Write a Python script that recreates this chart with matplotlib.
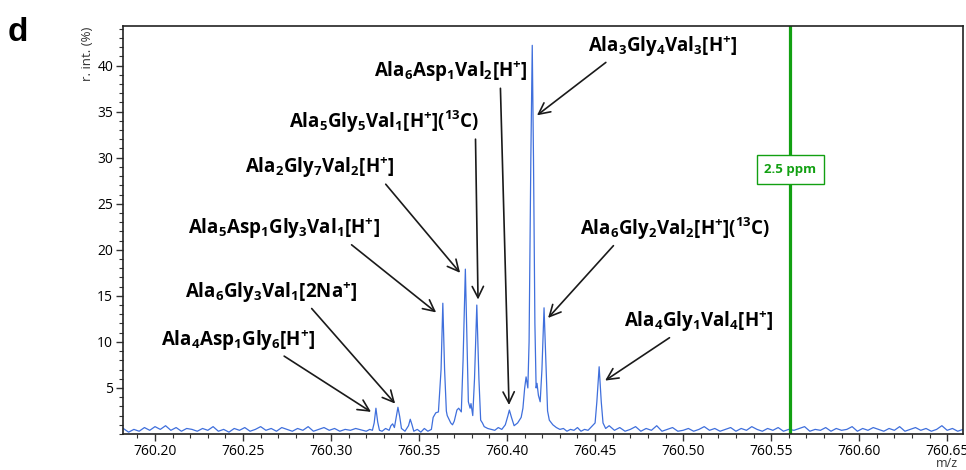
import numpy as np
import matplotlib
matplotlib.use("Agg")
import matplotlib.pyplot as plt
from matplotlib.ticker import MultipleLocator

plt.rcParams['font.family'] = ['Open Sans', 'DejaVu Sans']
plt.rcParams['mathtext.fontset'] = 'custom'
plt.rcParams['mathtext.rm'] = 'Open Sans:bold'
plt.rcParams['mathtext.it'] = 'Open Sans:bold'
plt.rcParams['mathtext.bf'] = 'Open Sans:bold'

# spectrum trace (m/z, relative intensity %)
mz_low = [760.182, 760.185, 760.188, 760.191, 760.194, 760.197, 760.200, 760.203,
          760.206, 760.209, 760.212, 760.215, 760.218, 760.221, 760.224, 760.227,
          760.230, 760.233, 760.236, 760.239, 760.242, 760.245, 760.248, 760.251,
          760.254, 760.257, 760.260, 760.263, 760.266, 760.269, 760.272, 760.275,
          760.278, 760.281, 760.284, 760.287, 760.290, 760.293, 760.296, 760.299,
          760.302, 760.305, 760.308, 760.311, 760.314]
int_low = [0.6, 0.2, 0.5, 0.3, 0.7, 0.4, 0.8, 0.5,
           0.9, 0.4, 0.7, 0.3, 0.6, 0.5, 0.3, 0.6,
           0.4, 0.8, 0.3, 0.5, 0.2, 0.6, 0.4, 0.7,
           0.3, 0.5, 0.8, 0.4, 0.6, 0.3, 0.7, 0.5,
           0.3, 0.6, 0.4, 0.8, 0.3, 0.5, 0.7, 0.4,
           0.6, 0.3, 0.5, 0.4, 0.6]

mz_peaks = [760.318, 760.320, 760.322, 760.3235, 760.3245, 760.3255, 760.3265, 760.3275,
            760.329, 760.331, 760.333, 760.334, 760.335, 760.336, 760.337, 760.338,
            760.339, 760.340, 760.342, 760.344, 760.345, 760.346, 760.347, 760.349,
            760.351, 760.353, 760.355, 760.357, 760.358, 760.3595, 760.361, 760.3625,
            760.3635, 760.3645, 760.3655, 760.366, 760.367, 760.368, 760.369, 760.370,
            760.3715, 760.3725, 760.374, 760.375, 760.3763, 760.3775, 760.378, 760.379,
            760.3795, 760.3805, 760.3815, 760.3828, 760.384, 760.385, 760.386, 760.387,
            760.389, 760.391, 760.393, 760.395, 760.397, 760.399, 760.4005, 760.4013,
            760.4025, 760.404, 760.406, 760.408, 760.409, 760.410, 760.4108, 760.4118,
            760.4125, 760.4135, 760.4143, 760.415, 760.4158, 760.4165, 760.4170, 760.4178,
            760.4188, 760.4198, 760.4210, 760.4222, 760.423, 760.424, 760.426, 760.428,
            760.430, 760.432, 760.434, 760.436, 760.438, 760.440, 760.442, 760.444,
            760.446, 760.448, 760.450, 760.451, 760.4523, 760.4535, 760.4545, 760.456,
            760.458]
int_peaks = [0.4, 0.3, 0.5, 0.4, 1.2, 2.8, 1.3, 0.4,
             0.3, 0.6, 0.4, 0.9, 1.1, 0.7, 1.8, 2.9,
             1.9, 0.6, 0.3, 0.9, 1.6, 1.0, 0.3, 0.5,
             0.2, 0.6, 0.3, 0.5, 1.8, 2.3, 2.4, 7.0,
             14.2, 7.0, 2.5, 2.0, 1.6, 1.2, 1.0, 1.4,
             2.6, 2.8, 2.4, 8.0, 17.9, 8.0, 3.5, 2.8,
             3.3, 2.0, 6.0, 14.0, 6.0, 1.5, 1.2, 0.8,
             0.6, 0.5, 0.4, 0.7, 0.5, 1.0, 2.0, 2.6,
             1.8, 0.9, 1.2, 1.8, 2.8, 5.0, 6.2, 5.0,
             10.0, 30.0, 42.2, 30.0, 12.0, 5.0, 5.5, 4.2,
             3.5, 7.0, 13.7, 7.0, 2.5, 1.5, 1.0, 0.7,
             0.5, 0.6, 0.3, 0.5, 0.4, 0.7, 0.3, 0.5,
             0.4, 0.8, 1.2, 3.5, 7.3, 3.5, 1.2, 0.6,
             0.9]

mz_high = [760.461, 760.464, 760.467, 760.470, 760.473, 760.476, 760.479, 760.482,
           760.485, 760.488, 760.491, 760.494, 760.497, 760.500, 760.503, 760.506,
           760.509, 760.512, 760.515, 760.518, 760.521, 760.524, 760.527, 760.530,
           760.533, 760.536, 760.539, 760.542, 760.545, 760.548, 760.551, 760.554,
           760.557, 760.560, 760.563, 760.566, 760.569, 760.572, 760.575, 760.578,
           760.581, 760.584, 760.587, 760.590, 760.593, 760.596, 760.599, 760.602,
           760.605, 760.608, 760.611, 760.614, 760.617, 760.620, 760.623, 760.626,
           760.629, 760.632, 760.635, 760.638, 760.641, 760.644, 760.647, 760.650,
           760.653, 760.656, 760.659]
int_high = [0.4, 0.7, 0.3, 0.5, 0.8, 0.3, 0.6, 0.4,
            0.9, 0.3, 0.5, 0.7, 0.3, 0.4, 0.6, 0.3,
            0.5, 0.8, 0.4, 0.6, 0.3, 0.5, 0.7, 0.3,
            0.6, 0.4, 0.8, 0.5, 0.3, 0.6, 0.4, 0.7,
            0.3, 0.5, 0.4, 0.6, 0.8, 0.3, 0.5, 0.4,
            0.7, 0.3, 0.6, 0.4, 0.5, 0.8, 0.3, 0.6,
            0.4, 0.7, 0.5, 0.3, 0.6, 0.4, 0.8, 0.3,
            0.5, 0.7, 0.4, 0.6, 0.3, 0.5, 0.9, 0.4,
            0.6, 0.3, 0.5]

# annotated species: label, peak tip (m/z, intensity)
labels = [r'$\mathrm{Ala_{3}Gly_{4}Val_{3}[H^{+}]}$',
          r'$\mathrm{Ala_{6}Asp_{1}Val_{2}[H^{+}]}$',
          r'$\mathrm{Ala_{5}Gly_{5}Val_{1}[H^{+}]({}^{13}C)}$',
          r'$\mathrm{Ala_{2}Gly_{7}Val_{2}[H^{+}]}$',
          r'$\mathrm{Ala_{5}Asp_{1}Gly_{3}Val_{1}[H^{+}]}$',
          r'$\mathrm{Ala_{6}Gly_{3}Val_{1}[2Na^{+}]}$',
          r'$\mathrm{Ala_{4}Asp_{1}Gly_{6}[H^{+}]}$',
          r'$\mathrm{Ala_{6}Gly_{2}Val_{2}[H^{+}]({}^{13}C)}$',
          r'$\mathrm{Ala_{4}Gly_{1}Val_{4}[H^{+}]}$']
tip_mz = [760.4170, 760.4011, 760.3835, 760.3733, 760.3597, 760.3364, 760.3227, 760.4233, 760.4557]
tip_int = [34.6, 3.15, 14.6, 17.5, 13.2, 3.3, 2.4, 12.6, 5.8]

ref_mz = 760.561
ref_label = '2.5 ppm'

# label placement (layout only)
text_xy = [(760.4886, 42.1), (760.3682, 39.35), (760.3301, 33.9), (760.2938, 28.9),
           (760.2733, 22.3), (760.2659, 15.4), (760.2472, 10.2), (760.4955, 22.3),
           (760.5091, 12.2)]
tail_rel = [0.16, 0.82, 0.98, 0.91, 0.82, 0.71, 0.75, 0.2, 0.35]

mz = mz_low + mz_peaks + mz_high
inten = int_low + int_peaks + int_high

fig = plt.figure(figsize=(9.66, 4.70), dpi=100)
ax = fig.add_axes([0.1273, 0.0766, 0.8696, 0.8681])

ax.plot(mz, inten, color='#3f6fdc', lw=0.9)
ax.axvline(ref_mz, color='#12a012', lw=2.3)
ax.text(ref_mz, 28.7, ref_label, color='#12a012', fontsize=9.5, fontweight='bold',
        ha='center', va='center',
        bbox=dict(boxstyle='square,pad=0.6', fc='white', ec='#12a012', lw=1))

for lab, tx, ty, (xt, yt), rel in zip(labels, tip_mz, tip_int, text_xy, tail_rel):
    ax.annotate(lab, xy=(tx, ty), xytext=(xt, yt), fontsize=13.5,
                ha='center', va='center',
                arrowprops=dict(arrowstyle='->,head_length=0.6,head_width=0.3',
                                color='#1a1a1a', lw=1.2, relpos=(rel, 0.05),
                                shrinkA=1, shrinkB=0))

ax.set_xlim(760.1818, 760.659)
ax.set_ylim(0, 44.3)
ax.xaxis.set_major_locator(MultipleLocator(0.05))
ax.xaxis.set_minor_locator(MultipleLocator(0.01))
ax.yaxis.set_minor_locator(MultipleLocator(1))
ax.set_yticks([5, 10, 15, 20, 25, 30, 35, 40])
ax.xaxis.set_major_formatter(matplotlib.ticker.FormatStrFormatter('%.2f'))
ax.tick_params(which='major', direction='out', length=5, width=1, labelsize=10,
               color='#333333', pad=2)
ax.tick_params(which='minor', direction='out', length=3, width=0.8, color='#333333')
for s in ax.spines.values():
    s.set_linewidth(1.2)
    s.set_color('#222222')

ax.text(-0.042, 0.998, 'r. int. (%)', transform=ax.transAxes, rotation=90,
        ha='center', va='top', fontsize=9.5, color='#333333')
ax.text(0.994, -0.072, 'm/z', transform=ax.transAxes, ha='right', va='center',
        fontsize=9, color='#333333')
fig.text(0.008, 0.93, 'd', fontsize=24, fontweight='bold', ha='left', va='center',
         family='Liberation Sans')

fig.savefig('out.png', dpi=100)
